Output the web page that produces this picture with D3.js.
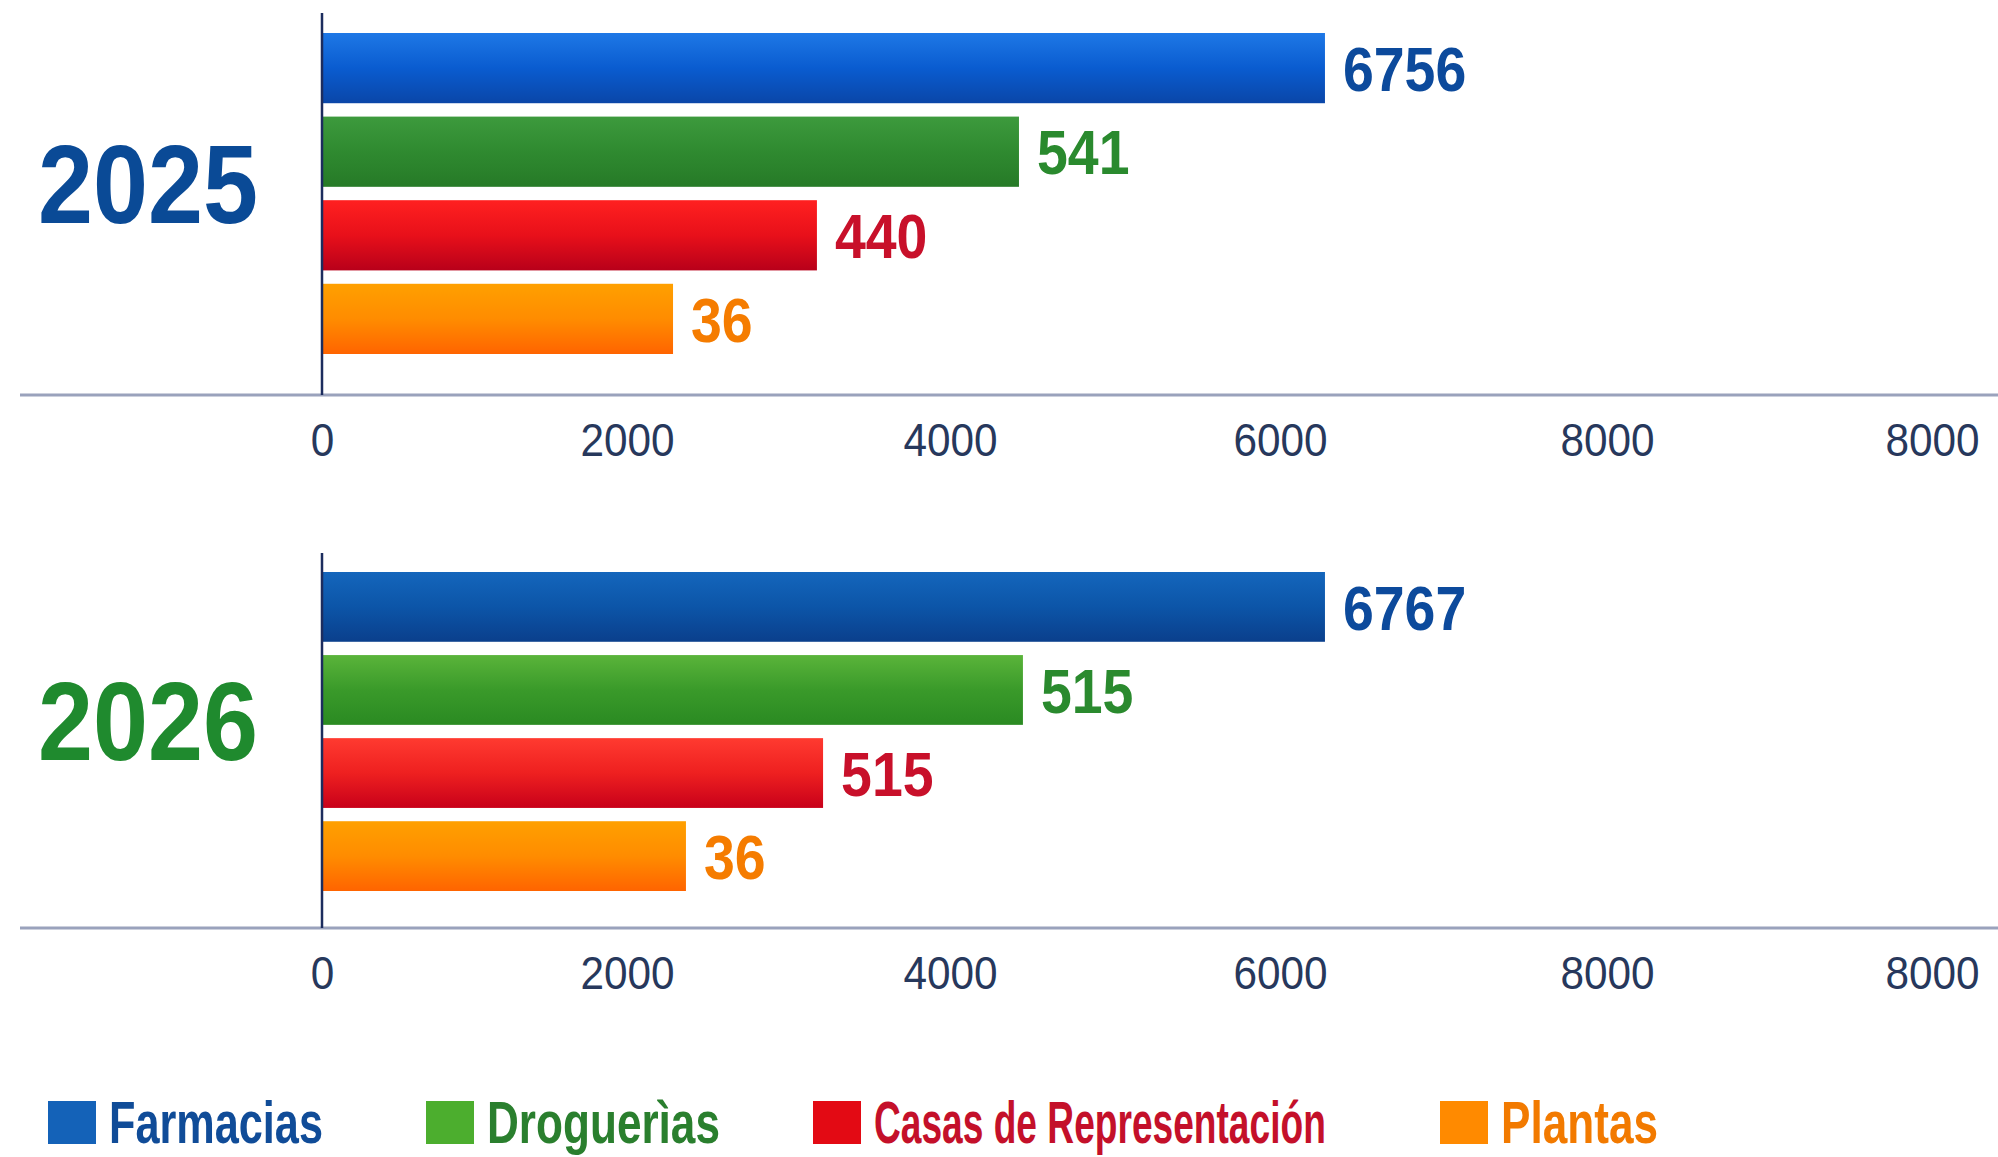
<!DOCTYPE html>
<html>
<head>
<meta charset="utf-8">
<script src="https://cdn.jsdelivr.net/npm/d3@7"></script>
<style>
  html, body { margin: 0; padding: 0; background: #ffffff; }
  svg { display: block; }
</style>
</head>
<body>
<svg id="chart" width="1998" height="1157"></svg>
<script>
// ---------- DATA ----------
const categories = ["Farmacias", "Droguerías", "Casas de Representación", "Plantas"];
const legendLabels = ["Farmacias", "Droguerìas", "Casas de Representación", "Plantas"];
const years = ["2025", "2026"];
// printed value labels
const values2025 = [6756, 541, 440, 36];
const values2026 = [6767, 515, 515, 36];
// bar lengths as drawn against the axis (axis units)
const barLen2025 = [6275, 4418, 3176, 2285];
const barLen2026 = [6275, 4442, 3214, 2365];
// axis ticks
const tickValues = [0, 2000, 4000, 6000, 8000, 10000];
const tickLabels = ["0", "2000", "4000", "6000", "8000", "8000"];

// ---------- LAYOUT / STYLE ----------
const tickPixels = [322, 627, 950, 1280, 1607, 1932]; // where the picture places its ticks
const labelColors = ["#0c4a9c", "#2a8a2e", "#c8102a", "#f57c00"];
const legendSquare = ["#1462b8", "#4cae2e", "#e30a14", "#ff8a00"];
const legendText = ["#104c98", "#2a7f2e", "#c4102a", "#f27a00"];
const legendX = [48, 426, 813, 1440];
const legendW = [214, 233, 452, 157];
const gradients = [
  [["#1e78e6", "#0a5cd0", "#0a46a8"], ["#3d9a3d", "#2f8a30", "#267a27"], ["#ff2020", "#e8101a", "#b8001a"], ["#ffa000", "#ff8c00", "#ff6400"]],
  [["#1466bc", "#0c55a8", "#0a3f8c"], ["#5ab43a", "#3a9a2a", "#2a8a22"], ["#ff3a30", "#ee2020", "#c8001a"], ["#ffa000", "#ff8c00", "#ff6400"]]
];
const yearColors = ["#0a4a96", "#1f8a2e"];
const FONT = "'Liberation Sans', Arial, sans-serif";

function condense(sel, factor) {
  sel.each(function () {
    const w = this.getComputedTextLength();
    d3.select(this).attr("textLength", w * factor).attr("lengthAdjust", "spacingAndGlyphs");
  });
}

const svg = d3.select("#chart");
const defs = svg.append("defs");

const x = d3.scaleLinear().domain(tickValues).range(tickPixels);

const panels = [
  { year: years[0], values: values2025, lens: barLen2025, bandTop: 33, bandBottom: 354, vTop: 13, axisY: 395, yearY: 223 },
  { year: years[1], values: values2026, lens: barLen2026, bandTop: 572, bandBottom: 891, vTop: 553, axisY: 928, yearY: 760 }
];

panels.forEach((p, pi) => {
  gradients[pi].forEach((stops, ci) => {
    const g = defs.append("linearGradient")
      .attr("id", `g${pi}_${ci}`)
      .attr("x1", 0).attr("y1", 0).attr("x2", 0).attr("y2", 1);
    g.append("stop").attr("offset", "0%").attr("stop-color", stops[0]);
    g.append("stop").attr("offset", "50%").attr("stop-color", stops[1]);
    g.append("stop").attr("offset", "100%").attr("stop-color", stops[2]);
  });

  const y = d3.scaleBand().domain(categories).range([p.bandTop, p.bandBottom]).paddingInner(0.16).paddingOuter(0);
  const g = svg.append("g");

  g.append("line")
    .attr("x1", 20).attr("x2", 1998)
    .attr("y1", p.axisY).attr("y2", p.axisY)
    .attr("stroke", "#9aa2bc").attr("stroke-width", 3);

  const axis = d3.axisBottom(x).tickValues(tickValues)
    .tickFormat((d, i) => tickLabels[i]).tickSize(0).tickPadding(0);
  const ag = g.append("g").attr("transform", `translate(0,${p.axisY + 28})`).call(axis);
  ag.select(".domain").remove();
  ag.selectAll("text")
    .attr("dy", "0.71em")
    .style("font-family", FONT)
    .style("font-size", "47px")
    .attr("fill", "#27385c")
    .call(condense, 0.9);

  g.selectAll("rect.bar").data(categories).enter().append("rect")
    .attr("class", "bar")
    .attr("x", x(0))
    .attr("y", d => y(d))
    .attr("width", (d, i) => x(p.lens[i]) - x(0))
    .attr("height", y.bandwidth())
    .attr("fill", (d, i) => `url(#g${pi}_${i})`);

  g.selectAll("text.val").data(categories).enter().append("text")
    .attr("class", "val")
    .attr("x", (d, i) => x(p.lens[i]) + 18)
    .attr("y", d => y(d) + y.bandwidth() / 2)
    .attr("dy", "0.36em")
    .style("font-family", FONT)
    .style("font-weight", "bold")
    .style("font-size", "63px")
    .attr("fill", (d, i) => labelColors[i])
    .text((d, i) => p.values[i])
    .call(condense, 0.88);

  g.append("line")
    .attr("x1", x(0)).attr("x2", x(0))
    .attr("y1", p.vTop).attr("y2", p.axisY)
    .attr("stroke", "#1c2c5e").attr("stroke-width", 2.5);

  g.append("text")
    .attr("x", 38).attr("y", p.yearY)
    .attr("textLength", 220).attr("lengthAdjust", "spacingAndGlyphs")
    .style("font-family", FONT)
    .style("font-weight", "bold")
    .style("font-size", "112px")
    .attr("fill", yearColors[pi])
    .text(p.year);
});

// legend (text horizontally condensed with a scale transform)
const lg = svg.append("g");
legendLabels.forEach((lab, i) => {
  lg.append("rect")
    .attr("x", legendX[i]).attr("y", 1101)
    .attr("width", 48).attr("height", 43)
    .attr("fill", legendSquare[i]);
  const tg = lg.append("g");
  const t = tg.append("text")
    .attr("x", 0).attr("y", 0)
    .style("font-family", FONT)
    .style("font-weight", "bold")
    .style("font-size", "60px")
    .attr("fill", legendText[i])
    .text(lab);
  const natural = t.node().getComputedTextLength();
  const sx = legendW[i] / natural;
  tg.attr("transform", `translate(${legendX[i] + 61},1143) scale(${sx},1)`);
});
</script>
</body>
</html>
